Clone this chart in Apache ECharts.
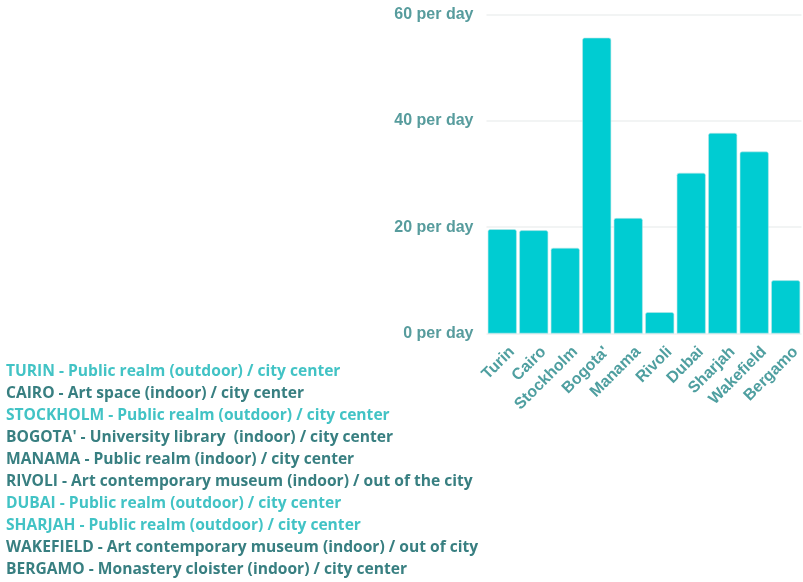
<!DOCTYPE html>
<html><head><meta charset="utf-8">
<script src="https://cdn.jsdelivr.net/npm/echarts@6/dist/echarts.min.js"></script>
<style>html,body{margin:0;padding:0;background:#fff}#c{width:803px;height:582px}</style>
</head><body><div id="c"></div>
<script>
const categories = ["Turin","Cairo","Stockholm","Bogota'","Manama","Rivoli","Dubai","Sharjah","Wakefield","Bergamo"];
const visitsPerDay = [19.6,19.4,16.1,55.6,21.7,4.0,30.2,37.7,34.2,10.0];
const yTicks = [0,20,40,60];
const noteCity = ["TURIN","CAIRO","STOCKHOLM","BOGOTA'","MANAMA","RIVOLI","DUBAI","SHARJAH","WAKEFIELD","BERGAMO"];
const noteText = [
 "Public realm (outdoor) / city center",
 "Art space (indoor) / city center",
 "Public realm (outdoor) / city center",
 "University library  (indoor) / city center",
 "Public realm (indoor) / city center",
 "Art contemporary museum (indoor) / out of the city",
 "Public realm (outdoor) / city center",
 "Public realm (outdoor) / city center",
 "Art contemporary museum (indoor) / out of city",
 "Monastery cloister (indoor) / city center"
];
const noteOutdoor = [true,false,true,false,false,false,true,true,false,false];

const chart = echarts.init(document.getElementById('c'));
const lightTeal = '#42c3c5';
const darkTeal = '#387f81';
const graphics = noteCity.map((c,i)=>({
  type:'text', left:6, top:364 + i*22,
  style:{text:c + ' - ' + noteText[i], fill: noteOutdoor[i]?lightTeal:darkTeal,
    font:'bold 15.6px "Open Sans", sans-serif'}
}));
chart.setOption({
  animation:false,
  grid:{left:486.5, top:14.3, bottom:248.5, right:-6, containLabel:false},
  xAxis:{type:'category', data:categories,
    axisLine:{show:false}, axisTick:{show:false},
    axisLabel:{rotate:45, color:'#4f9fa0', fontSize:16, fontWeight:'bold', fontFamily:'"Liberation Sans", Arial, sans-serif',
      margin:6, interval:0, verticalAlign:'top', padding:[6,0,0,0]}},
  yAxis:{type:'value', min:0, max:60, interval:20,
    axisLine:{show:false}, axisTick:{show:false},
    splitLine:{lineStyle:{color:'#eef0f0', width:1.5}},
    axisLabel:{formatter:v=>v+' per day', color:'#579c9d', fontSize:16, fontWeight:'bold', fontFamily:'"Liberation Sans", Arial, sans-serif', margin:13}},
  series:[{type:'bar', data:visitsPerDay, barCategoryGap:'8%',
    itemStyle:{color:'#00ccd2', borderRadius:[2,2,0,0], borderColor:'#b8e6e8', borderWidth:0.6}}],
  graphic:graphics
});
</script></body></html>
